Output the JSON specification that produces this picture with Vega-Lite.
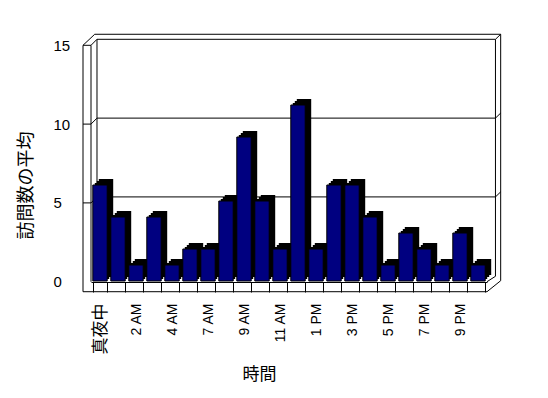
{
  "$schema": "https://vega.github.io/schema/vega-lite/v6.json",
  "width": 396,
  "height": 242,
  "autosize": {"type": "none"},
  "padding": {"left": 91, "top": 40, "right": 61, "bottom": 116},
  "background": "white",
  "view": {"stroke": null},
  "datasets": {
    "visits": [
      {"hour": "真夜中", "visits": 6},
      {"hour": "1 AM", "visits": 4},
      {"hour": "2 AM", "visits": 1},
      {"hour": "3 AM", "visits": 4},
      {"hour": "4 AM", "visits": 1},
      {"hour": "5 AM", "visits": 2},
      {"hour": "7 AM", "visits": 2},
      {"hour": "8 AM", "visits": 5},
      {"hour": "9 AM", "visits": 9},
      {"hour": "10 AM", "visits": 5},
      {"hour": "11 AM", "visits": 2},
      {"hour": "12 PM", "visits": 11},
      {"hour": "1 PM", "visits": 2},
      {"hour": "2 PM", "visits": 6},
      {"hour": "3 PM", "visits": 6},
      {"hour": "4 PM", "visits": 4},
      {"hour": "5 PM", "visits": 1},
      {"hour": "6 PM", "visits": 3},
      {"hour": "7 PM", "visits": 2},
      {"hour": "8 PM", "visits": 1},
      {"hour": "9 PM", "visits": 3},
      {"hour": "10 PM", "visits": 1}
    ],
    "frame": [
      {"x": -0.444, "y": -0.635, "x2": -0.444, "y2": 15},
      {"x": 0, "y": 0, "x2": 0, "y2": 15},
      {"x": -0.444, "y": 15, "x2": 0, "y2": 15},
      {"x": -0.444, "y": 15, "x2": 0.206, "y2": 15.7},
      {"x": 0, "y": 15, "x2": 0.333, "y2": 15.38},
      {"x": 0.206, "y": 15.7, "x2": 22.76, "y2": 15.7},
      {"x": 0.333, "y": 15.38, "x2": 22.47, "y2": 15.38},
      {"x": 0.333, "y": 0.343, "x2": 0.333, "y2": 15.38},
      {"x": 22.47, "y": 0.343, "x2": 22.47, "y2": 15.38},
      {"x": 22.76, "y": 0.063, "x2": 22.76, "y2": 15.7},
      {"x": 22.47, "y": 15.38, "x2": 22.76, "y2": 15.7},
      {"x": 0.333, "y": 5.38, "x2": 22.47, "y2": 5.38},
      {"x": 0.333, "y": 10.38, "x2": 22.47, "y2": 10.38},
      {"x": 0, "y": 5, "x2": 0.333, "y2": 5.38},
      {"x": 0, "y": 10, "x2": 0.333, "y2": 10.38},
      {"x": -0.444, "y": 5, "x2": 0, "y2": 5},
      {"x": -0.444, "y": 10, "x2": 0, "y2": 10},
      {"x": 22.47, "y": 5.38, "x2": 22.76, "y2": 5.7},
      {"x": 22.47, "y": 10.38, "x2": 22.76, "y2": 10.7},
      {"x": -0.444, "y": -0.635, "x2": 22, "y2": -0.635},
      {"x": 22, "y": -0.635, "x2": 22.76, "y2": 0.063},
      {"x": 22, "y": 0, "x2": 22.47, "y2": 0.343}
    ]
  },
  "layer": [
    {
      "data": {"name": "frame"},
      "mark": {"type": "rule", "color": "black", "strokeWidth": 1},
      "encoding": {
        "x": {"field": "x", "type": "quantitative", "scale": {"domain": [0, 22], "range": [0, 396], "nice": false, "zero": false}, "axis": null},
        "x2": {"field": "x2"},
        "y": {
          "field": "y", "type": "quantitative",
          "scale": {"domain": [0, 15], "range": [241.7, 5.3], "nice": false, "zero": false},
          "axis": {
            "values": [0, 5, 10, 15], "ticks": false, "tickSize": 0, "domain": false, "grid": false,
            "labelAlign": "left", "labelBaseline": "middle", "labelPadding": 38,
            "labelFont": "Liberation Sans", "labelFontSize": 15, "labelColor": "black",
            "title": "訪問数の平均", "titleFont": "Noto Sans CJK JP", "titleFontSize": 18,
            "titleFontWeight": "normal", "titleColor": "black",
            "titleX": -65, "titleY": 145, "titleAngle": -90, "titleAlign": "center", "titleBaseline": "middle"
          }
        },
        "y2": {"field": "y2"}
      }
    },
    {
      "data": {"name": "visits"},
      "mark": {"type": "bar", "color": "black"},
      "encoding": {
        "x": {"field": "hour", "type": "nominal", "sort": null, "scale": {"range": [6, 402], "paddingInner": 0.2, "paddingOuter": 0.1}, "axis": null},
        "y": {"field": "visits", "type": "quantitative", "scale": {"domain": [0, 15], "range": [235, -5], "nice": false}, "axis": null}
      }
    },
    {
      "data": {"name": "visits"},
      "mark": {"type": "bar", "color": "black"},
      "encoding": {
        "x": {"field": "hour", "type": "nominal", "sort": null, "scale": {"range": [4, 400], "paddingInner": 0.2, "paddingOuter": 0.1}, "axis": null},
        "y": {"field": "visits", "type": "quantitative", "scale": {"domain": [0, 15], "range": [237, -3], "nice": false}, "axis": null}
      }
    },
    {
      "data": {"name": "visits"},
      "mark": {"type": "bar", "color": "black"},
      "encoding": {
        "x": {"field": "hour", "type": "nominal", "sort": null, "scale": {"range": [2, 398], "paddingInner": 0.2, "paddingOuter": 0.1}, "axis": null},
        "y": {"field": "visits", "type": "quantitative", "scale": {"domain": [0, 15], "range": [239, -1], "nice": false}, "axis": null}
      }
    },
    {
      "data": {"name": "visits"},
      "mark": {"type": "bar", "color": "#000080", "stroke": "black", "strokeWidth": 1},
      "encoding": {
        "x": {
          "field": "hour", "type": "nominal", "sort": null,
          "scale": {"range": [0, 396], "paddingInner": 0.2, "paddingOuter": 0.1},
          "axis": {
            "orient": "bottom", "domain": true, "domainColor": "black", "domainWidth": 1,
            "ticks": true, "tickBand": "extent", "tickSize": 10, "tickColor": "black", "tickWidth": 1,
            "grid": false, "labelAngle": -90, "labelPadding": 11,
            "labelFont": "Liberation Sans, Noto Sans CJK JP",
            "labelFontSize": {"condition": {"test": "datum.value === '真夜中'", "value": 17}, "value": 14},
            "labelColor": "black", "labelOverlap": false,
            "labelExpr": "indexof(['真夜中','2 AM','4 AM','7 AM','9 AM','11 AM','1 PM','3 PM','5 PM','7 PM','9 PM'], datum.value) >= 0 ? datum.value : ''",
            "title": "時間", "titleFont": "Noto Sans CJK JP", "titleFontSize": 17, "titleFontWeight": "normal",
            "titleColor": "black", "titleX": 168, "titleY": 92, "titleAlign": "center", "titleBaseline": "middle"
          }
        },
        "y": {"field": "visits", "type": "quantitative", "scale": {"domain": [0, 15], "range": [241, 1], "nice": false}, "axis": null}
      }
    }
  ],
  "resolve": {"scale": {"x": "independent", "y": "independent"}}
}
